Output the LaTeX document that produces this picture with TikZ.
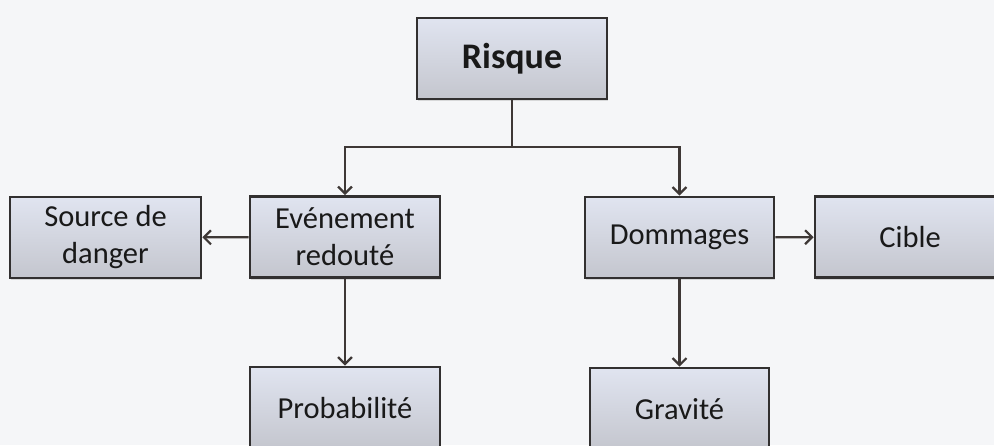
\documentclass[tikz,border=0pt]{standalone}
\usepackage{fontspec}
\setmainfont{Carlito}
\usetikzlibrary{arrows.meta,shadows}
\definecolor{fond}{RGB}{245,246,248}
\definecolor{bord}{RGB}{50,48,48}
\definecolor{haut}{RGB}{224,228,240}
\definecolor{bas}{RGB}{196,198,206}
\definecolor{trait}{RGB}{62,56,54}
\begin{document}
\begin{tikzpicture}[x=1pt,y=-1pt,
	boite/.style={draw=bord,line width=2.8pt,top color=haut,bottom color=bas,
		minimum width=190pt,minimum height=81pt,inner sep=0pt,align=center,
		font=\fontsize{30.5}{37}\selectfont,text=black!90,
		drop shadow={opacity=.25,shadow xshift=1pt,shadow yshift=-2pt}},
	fleche/.style={draw=trait,line width=2.2pt,-{Straight Barb[length=7pt,width=14pt]}}]
	\fill[fond] (0,0) rectangle (994,445);
	\useasboundingbox (0,0) rectangle (994,445);
	\clip (0,0) rectangle (994,445);
	
	\node[boite,font=\fontsize{36}{40}\selectfont\bfseries] at (512,58.5) (risque) {Risque};
	\coordinate (fourche) at (512,147);
	
	\node[boite] at (345,237) (evenement) {Evénement\\redouté};
	\node[boite,minimum width=191pt] at (105.5,237.5) (source) {Source de\\danger};
	\node[boite,minimum height=82pt] at (345,408) (proba) {Probabilité};
	
	\node[boite,minimum width=189pt] at (679.5,237.5) (dommages) {Dommages};
	\node[boite] at (910,237) (cible) {Cible};
	\node[boite,minimum width=179pt,minimum height=82pt] at (679.5,409) (gravite) {Gravité};
	
	\draw[draw=trait,line width=2.2pt] (risque) -- (fourche);
	\draw[fleche] (fourche) -| (evenement);
	\draw[fleche] (fourche) -| (dommages);
	\draw[fleche] (evenement) -- (source);
	\draw[fleche] (dommages) -- (cible);
	\draw[fleche] (evenement) -- (proba);
	\draw[fleche] (dommages) -- (gravite);
\end{tikzpicture}
\end{document}
